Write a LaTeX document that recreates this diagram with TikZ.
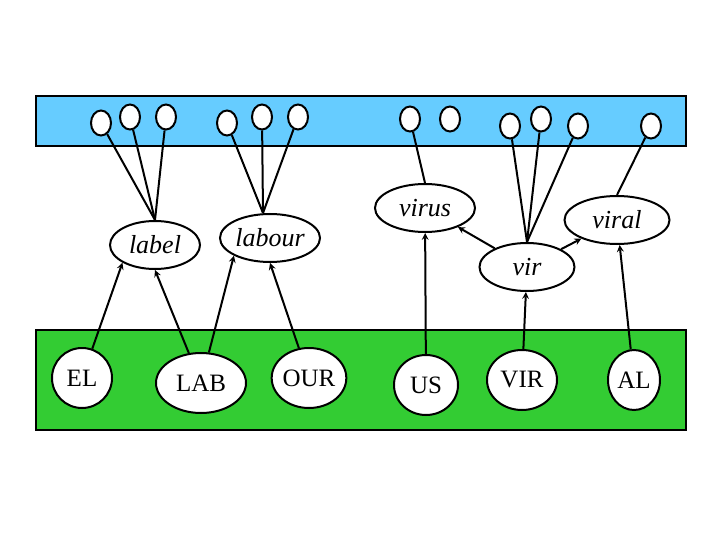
\documentclass[tikz,border=0pt]{standalone}
\usepackage{fontspec}
\setmainfont{Liberation Serif}
\usetikzlibrary{shapes.geometric}
\begin{document}
\begin{tikzpicture}[x=1pt,y=-1pt,line width=2pt]
\tikzset{
  small/.style={ellipse,draw,fill=white,minimum width=20pt,minimum height=25pt,inner sep=0pt},
  word/.style={ellipse,draw,fill=white,minimum width=#1,minimum height=48pt,inner sep=0pt,font=\fontsize{26}{28}\selectfont\itshape},
  morph/.style={ellipse,draw,fill=white,minimum width=#1,minimum height=60pt,inner sep=0pt,font=\fontsize{25}{27}\selectfont},
  arr/.style={->,line width=2pt,>=stealth}
}
\useasboundingbox (0,0) rectangle (720,540);
\draw[fill={rgb,255:red,102;green,204;blue,255}] (36,96) rectangle (686,146);
\draw[fill={rgb,255:red,51;green,204;blue,51}] (36,330) rectangle (686,430);
% top small nodes
\foreach \n/\x/\y in {a/101/123,b/130/117,c/166/117,d/227/123,e/262/117,f/298/117,g/410/119,h/450/119,i/510/126,j/541/119,k/578/126,l/651/126}
  \node[small] (\n) at (\x,\y) {};
% words
\node[word=90pt] (label) at (155,245) {label};
\node[word=100pt] (labour) at (270,238) {labour};
\node[word=100pt] (virus) at (425,208) {virus};
\node[word=105pt] (viral) at (617,220) {viral};
\node[word=95pt] (vir) at (527,267) {vir};
% morphs
\node[morph=60pt] (EL) at (82,378) {EL};
\node[morph=90pt] (LAB) at (201,383) {LAB};
\node[morph=62pt] (OUR) at (309,378) {OUR};
\node[morph=64pt] (US) at (426,385) {US};
\node[morph=70pt] (VIR) at (522,380) {VIR};
\node[morph=52pt] (AL) at (634,380) {AL};
% lines up
\foreach \n in {a,b,c} \draw (\n) -- (label.north);
\foreach \n in {d,e,f} \draw (\n) -- ([xshift=-7pt]labour.north);
\draw (g) -- (virus.north);
\foreach \n in {i,j,k} \draw (\n) -- (vir.north);
\draw (l) -- (viral.north);
% arrows
\draw[arr] (EL) -- (label.south west);
\draw[arr] (LAB) -- (label.south);
\draw[arr] (LAB) -- (labour.south west);
\draw[arr] (OUR) -- (labour.south);
\draw[arr] (US) -- (virus);
\draw[arr] (VIR) -- (vir);
\draw[arr] (AL) -- (viral);
\draw[arr] (vir) -- (virus);
\draw[arr] (vir) -- (viral);
\end{tikzpicture}
\end{document}
